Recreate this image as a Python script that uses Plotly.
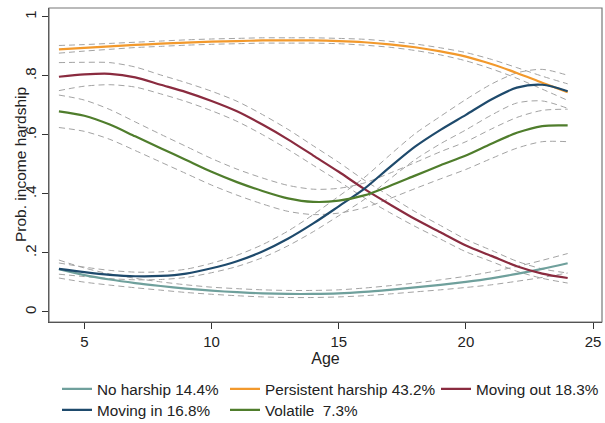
import plotly.graph_objects as go

# Predicted probability of income hardship by age, per trajectory group
ages = list(range(4, 25))

no_hardship = [0.145, 0.125, 0.110, 0.098, 0.088, 0.079, 0.072, 0.067, 0.063, 0.061, 0.061,
               0.063, 0.068, 0.075, 0.083, 0.092, 0.102, 0.114, 0.129, 0.146, 0.165]
no_hardship_lo = [0.115, 0.101, 0.091, 0.082, 0.074, 0.066, 0.060, 0.055, 0.051, 0.049, 0.049,
                  0.051, 0.055, 0.061, 0.068, 0.075, 0.083, 0.092, 0.104, 0.117, 0.132]
no_hardship_hi = [0.176, 0.149, 0.129, 0.114, 0.102, 0.092, 0.084, 0.079, 0.075, 0.073, 0.073,
                  0.075, 0.081, 0.089, 0.098, 0.109, 0.121, 0.136, 0.154, 0.175, 0.198]

persistent = [0.890, 0.895, 0.900, 0.905, 0.909, 0.913, 0.916, 0.918, 0.920, 0.920, 0.920,
              0.918, 0.914, 0.907, 0.897, 0.883, 0.865, 0.840, 0.810, 0.777, 0.745]
persistent_lo = [0.877, 0.884, 0.890, 0.896, 0.900, 0.904, 0.907, 0.909, 0.911, 0.911, 0.911,
                 0.909, 0.904, 0.897, 0.886, 0.871, 0.851, 0.824, 0.792, 0.755, 0.717]
persistent_hi = [0.903, 0.906, 0.910, 0.914, 0.918, 0.922, 0.925, 0.927, 0.929, 0.929, 0.929,
                 0.927, 0.924, 0.917, 0.908, 0.895, 0.879, 0.856, 0.828, 0.799, 0.773]

moving_out = [0.797, 0.805, 0.807, 0.795, 0.770, 0.745, 0.715, 0.680, 0.635, 0.585, 0.530,
              0.475, 0.417, 0.365, 0.315, 0.270, 0.225, 0.190, 0.155, 0.130, 0.115]
moving_out_lo = [0.750, 0.765, 0.770, 0.762, 0.739, 0.713, 0.682, 0.646, 0.601, 0.551, 0.497,
                 0.443, 0.387, 0.337, 0.290, 0.247, 0.204, 0.171, 0.138, 0.114, 0.098]
moving_out_hi = [0.845, 0.846, 0.845, 0.830, 0.803, 0.777, 0.748, 0.714, 0.669, 0.619, 0.563,
                 0.507, 0.447, 0.393, 0.340, 0.293, 0.246, 0.209, 0.172, 0.146, 0.132]

moving_in = [0.146, 0.135, 0.126, 0.121, 0.122, 0.130, 0.148, 0.172, 0.205, 0.248, 0.300,
             0.358, 0.417, 0.490, 0.560, 0.617, 0.668, 0.720, 0.760, 0.770, 0.748]
moving_in_lo = [0.128, 0.120, 0.113, 0.109, 0.110, 0.117, 0.133, 0.154, 0.184, 0.224, 0.272,
                0.326, 0.381, 0.450, 0.516, 0.570, 0.617, 0.667, 0.708, 0.715, 0.690]
moving_in_hi = [0.166, 0.152, 0.141, 0.135, 0.136, 0.145, 0.165, 0.192, 0.228, 0.274, 0.330,
                0.392, 0.455, 0.531, 0.604, 0.663, 0.720, 0.772, 0.810, 0.822, 0.802]

volatile = [0.680, 0.665, 0.635, 0.595, 0.555, 0.515, 0.475, 0.440, 0.410, 0.385, 0.373,
            0.377, 0.395, 0.427, 0.462, 0.497, 0.530, 0.570, 0.607, 0.630, 0.632]
volatile_lo = [0.625, 0.612, 0.585, 0.547, 0.508, 0.469, 0.430, 0.396, 0.366, 0.341, 0.330,
               0.335, 0.353, 0.384, 0.418, 0.451, 0.483, 0.520, 0.555, 0.577, 0.577]
volatile_hi = [0.735, 0.718, 0.686, 0.644, 0.602, 0.561, 0.520, 0.484, 0.454, 0.429, 0.416,
               0.419, 0.437, 0.470, 0.506, 0.543, 0.577, 0.620, 0.659, 0.683, 0.687]

group_names = ["No harship 14.4%", "Persistent harship 43.2%", "Moving out 18.3%",
               "Moving in 16.8%", "Volatile  7.3%"]

y_tick_values = [0, 0.2, 0.4, 0.6, 0.8, 1]
y_tick_labels = ["0", ".2", ".4", ".6", ".8", "1"]
x_tick_values = [5, 10, 15, 20, 25]

series = [
    (no_hardship, no_hardship_lo, no_hardship_hi, "#6fa09c"),
    (persistent, persistent_lo, persistent_hi, "#f2992c"),
    (moving_out, moving_out_lo, moving_out_hi, "#8a2b3f"),
    (moving_in, moving_in_lo, moving_in_hi, "#1e4a6c"),
    (volatile, volatile_lo, volatile_hi, "#4f7d2c"),
]

# legend boxes: one per entry, placed in two rows / three columns
legend_pos = [(57, 389), (225, 389), (436, 389), (57, 410), (225, 410)]

FONT = "Liberation Sans, Arial, sans-serif"
fig = go.Figure()

# confidence bands as dashed grey lines (drawn underneath)
for vals, lo, hi, col in series:
    for band in (lo, hi):
        fig.add_trace(go.Scatter(
            x=ages, y=band, mode="lines", showlegend=False, hoverinfo="skip",
            line=dict(color="#a3a3a3", width=1, dash="6px,4px",
                      shape="spline", smoothing=0.8)))

legend_layouts = {}
for i, ((vals, lo, hi, col), name) in enumerate(zip(series, group_names)):
    lg = "legend" if i == 0 else f"legend{i + 1}"
    fig.add_trace(go.Scatter(
        x=ages, y=vals, mode="lines", name=name, legend=lg,
        line=dict(color=col, width=2.2, shape="spline", smoothing=0.8)))
    px, py = legend_pos[i]
    legend_layouts[lg] = dict(
        x=px / 605, y=1 - py / 423, xref="container", yref="container",
        xanchor="left", yanchor="middle", bgcolor="rgba(0,0,0,0)",
        borderwidth=0, font=dict(family=FONT, size=15.3, color="#222"),
        itemwidth=30, tracegroupgap=0)

fig.update_layout(
    width=605, height=423,
    margin=dict(l=49, r=3, t=8, b=101, autoexpand=False),
    paper_bgcolor="white", plot_bgcolor="white",
    font=dict(family=FONT, size=15, color="#222"),
    **legend_layouts,
)

# light outer frame on top/right, darker axis lines on left/bottom
fig.add_shape(type="rect", xref="paper", yref="paper", x0=0, y0=0, x1=1, y1=1,
              line=dict(color="#777", width=1.2), layer="above")

fig.update_xaxes(
    range=[3.61, 25.35], tickvals=x_tick_values, ticks="outside", ticklen=6,
    tickcolor="#333", showgrid=False, zeroline=False,
    showline=True, linecolor="#333", linewidth=1.3,
    tickfont=dict(size=15), title=dict(text="Age", font=dict(size=16), standoff=1))

fig.update_yaxes(
    range=[-0.034, 1.03], tickvals=y_tick_values, ticktext=y_tick_labels,
    ticks="outside", ticklen=6, tickcolor="#333", tickangle=-90,
    showgrid=False, zeroline=False,
    showline=True, linecolor="#333", linewidth=1.3,
    tickfont=dict(size=15))

# y-axis title
fig.add_annotation(text="Prob. income hardship", xref="paper", yref="paper",
                   x=-29 / 553, y=0.5, xanchor="center", yanchor="middle",
                   textangle=-90, showarrow=False, font=dict(size=15.5, color="#222"))

fig.write_html("out.html")
